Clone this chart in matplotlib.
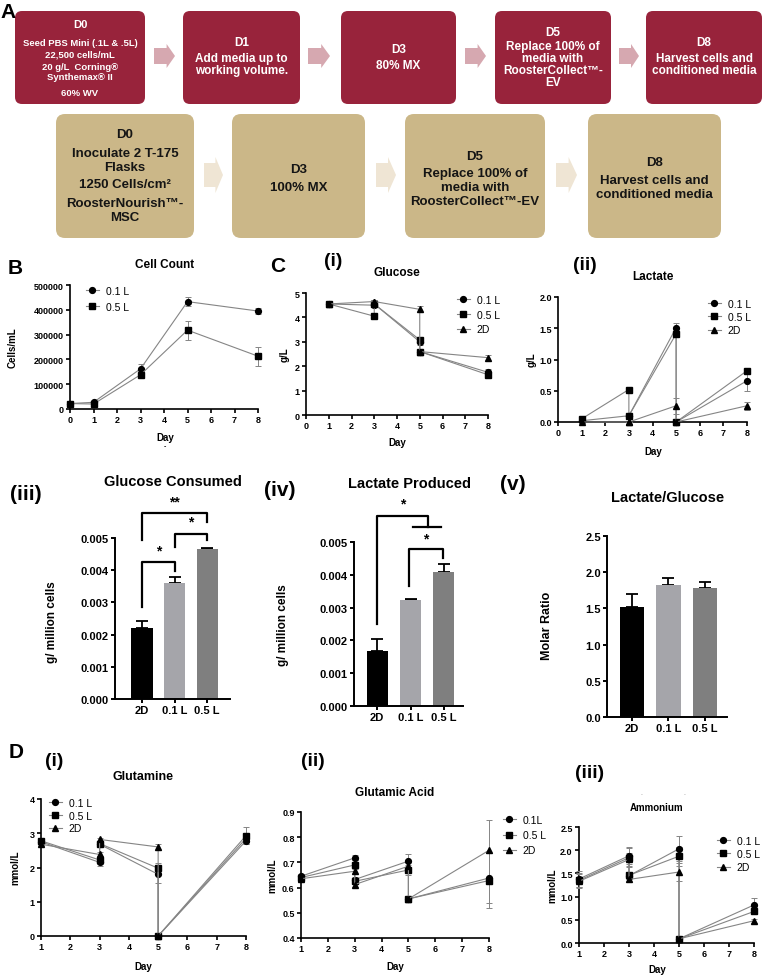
import numpy as np
import matplotlib
matplotlib.use('Agg')
import matplotlib.pyplot as plt
from matplotlib.patches import FancyBboxPatch, Polygon
from matplotlib.lines import Line2D

plt.rcParams['font.family'] = ['Liberation Sans', 'DejaVu Sans']
plt.rcParams['font.weight'] = 'bold'

# ---- データ ----
# B: cell count
cell_days = [0, 1, 3, 5, 8]
cells_01 = [22000, 27000, 162000, 433000, 395000]
cells_01_err = [3000, 5000, 20000, 18000, 13000]
cells_05 = [22000, 20000, 138000, 318000, 213000]
cells_05_err = [3000, 4000, 8000, 38000, 38000]

# C, D: metabolites (pre / post media exchange at day 3 and day 5)
met_days = [1, 3, 3, 5, 5, 8]
series_labels = ['0.1 L', '0.5 L', '2D']

glc_01 = [4.55, 4.50, 4.55, 3.00, 2.60, 1.75]
glc_05 = [4.55, 4.05, 4.55, 3.08, 2.60, 1.65]
glc_2d = [4.55, 4.65, 4.65, 4.33, 2.60, 2.35]
glc_err = [0.03, 0.05, 0.05, 0.12, 0.03, 0.12]

lac_01 = [0.02, 0.10, 0.10, 1.51, 0.00, 0.66]
lac_05 = [0.05, 0.52, 0.10, 1.41, 0.00, 0.82]
lac_2d = [0.00, 0.00, 0.00, 0.26, 0.00, 0.26]
lac_01_err = [0.01, 0.02, 0.02, 0.07, 0.00, 0.16]
lac_05_err = [0.01, 0.02, 0.02, 0.05, 0.00, 0.03]
lac_2d_err = [0.00, 0.00, 0.00, 0.13, 0.00, 0.06]

gln_01 = [2.75, 2.15, 2.68, 1.80, 0.00, 2.78]
gln_05 = [2.78, 2.22, 2.70, 1.98, 0.00, 2.93]
gln_2d = [2.68, 2.38, 2.82, 2.60, 0.00, 2.85]
gln_01_err = [0.08, 0.10, 0.08, 0.25, 0.00, 0.10]
gln_05_err = [0.08, 0.12, 0.08, 0.15, 0.00, 0.24]
gln_2d_err = [0.05, 0.08, 0.05, 0.10, 0.00, 0.12]

glu_01 = [0.645, 0.718, 0.632, 0.705, 0.555, 0.638]
glu_05 = [0.640, 0.690, 0.625, 0.670, 0.555, 0.628]
glu_2d = [0.635, 0.665, 0.612, 0.685, 0.555, 0.748]
glu_01_err = [0.01, 0.01, 0.01, 0.03, 0.00, 0.10]
glu_05_err = [0.01, 0.01, 0.01, 0.02, 0.00, 0.11]
glu_2d_err = [0.01, 0.01, 0.01, 0.02, 0.00, 0.12]

amm_01 = [1.38, 1.88, 1.45, 2.03, 0.09, 0.82]
amm_05 = [1.35, 1.84, 1.46, 1.87, 0.09, 0.68]
amm_2d = [1.33, 1.80, 1.37, 1.53, 0.09, 0.48]
amm_01_err = [0.18, 0.18, 0.08, 0.27, 0.00, 0.15]
amm_05_err = [0.15, 0.20, 0.08, 0.20, 0.00, 0.06]
amm_2d_err = [0.15, 0.15, 0.06, 0.20, 0.00, 0.04]

# bars
bar_groups = ['2D', '0.1 L', '0.5 L']
glc_consumed = [0.00222, 0.00359, 0.00466]
glc_consumed_err = [0.00020, 0.00020, 0.00002]
lac_produced = [0.00168, 0.00322, 0.00408]
lac_produced_err = [0.00037, 0.00003, 0.00026]
lac_glc_ratio = [1.52, 1.82, 1.78]
lac_glc_ratio_err = [0.18, 0.10, 0.09]
bar_colors = ['#000000', '#a5a5aa', '#7f7f7f']

# A: flow chart text
top_texts = [
    [(25, 'D0', 8), (43, 'Seed PBS Mini (.1L & .5L)', 6.8), (55, '22,500 cells/mL', 6.8),
     (68, '20 g/L  Corning®', 6.8), (78, 'Synthemax® II', 6.8), (93, '60% WV', 6.8)],
    [(43, 'D1', 8.5), (59, 'Add media up to', 8.5), (71, 'working volume.', 8.5)],
    [(50, 'D3', 8.5), (66, '80% MX', 8.5)],
    [(33, 'D5', 8.5), (47, 'Replace 100% of', 8.5), (59, 'media with', 8.5),
     (71, 'RoosterCollect™-', 8.5), (83, 'EV', 8.5)],
    [(43, 'D8', 8.5), (59, 'Harvest cells and', 8.5), (71, 'conditioned media', 8.5)],
]
bottom_texts = [
    [(135, 'D0'), (154, 'Inoculate 2 T-175'), (168, 'Flasks'), (185, '1250 Cells/cm²'),
     (204, 'RoosterNourish™-'), (218, 'MSC')],
    [(170, 'D3'), (188, '100% MX')],
    [(157, 'D5'), (174, 'Replace 100% of'), (188, 'media with'), (202, 'RoosterCollect™-EV')],
    [(163, 'D8'), (181, 'Harvest cells and'), (195, 'conditioned media')],
]

# ---- レイアウト (pixel) ----
W, H = 764, 978
fig = plt.figure(figsize=(W / 100, H / 100), dpi=100)
ax0 = fig.add_axes([0, 0, 1, 1])
ax0.set_xlim(0, W)
ax0.set_ylim(H, 0)
ax0.axis('off')


def px_axes(l, t, r, b):
    return fig.add_axes([l / W, 1 - b / H, (r - l) / W, (b - t) / H])


def txt(x, y, s, size=8, weight='bold', **kw):
    ax0.text(x, y, s, fontsize=size, fontweight=weight, ha=kw.pop('ha', 'center'),
             va=kw.pop('va', 'center'), **kw)


def block_arrow(x0, x1, yc, hb, hh, color):
    hl = (x1 - x0) * 0.4
    pts = [(x0, yc - hb), (x1 - hl, yc - hb), (x1 - hl, yc - hh), (x1, yc),
           (x1 - hl, yc + hh), (x1 - hl, yc + hb), (x0, yc + hb)]
    ax0.add_patch(Polygon(pts, closed=True, color=color, lw=0))


# ---- A: flow chart ----
top_x = [(15, 145), (183, 300), (341, 456), (495, 611), (646, 762)]
for (x0, x1), lines in zip(top_x, top_texts):
    ax0.add_patch(FancyBboxPatch((x0, 12), x1 - x0, 93, boxstyle='round,pad=0,rounding_size=7',
                                 fc='#98233b', ec='none'))
    for y, s, sz in lines:
        ax0.text((x0 + x1) / 2, y, s, fontsize=sz, fontweight='bold', color='white',
                 ha='center', va='center')
for x0, x1 in [(154, 175), (308, 330), (465, 486), (619, 639)]:
    block_arrow(x0, x1, 57, 8, 12, '#d6a8b0')

bot_x = [(56, 194), (232, 365), (405, 545), (588, 721)]
for (x0, x1), lines in zip(bot_x, bottom_texts):
    ax0.add_patch(FancyBboxPatch((x0, 115), x1 - x0, 124, boxstyle='round,pad=0,rounding_size=9',
                                 fc='#cbb788', ec='none'))
    for y, s in lines:
        ax0.text((x0 + x1) / 2, y, s, fontsize=9.5, fontweight='bold', color='#151515',
                 ha='center', va='center')
for x0, x1 in [(204, 223), (376, 396), (556, 577)]:
    block_arrow(x0, x1, 176, 12, 18, '#efe5d4')
txt(8, 13, 'A', 15)


# ---- line plot helper ----
markers = ['o', 's', '^']


def style_axes(ax, lw=1.2, size=6.5):
    ax.spines[['top', 'right']].set_visible(False)
    for s in ['left', 'bottom']:
        ax.spines[s].set_linewidth(lw)
    ax.tick_params(direction='out', length=3, width=lw, labelsize=size, pad=1.5)
    ax.set_facecolor('none')


def line_panel(ax, x, ys, errs, xlim, xticks, ylim, yticks, yfmt):
    for y, e, m in zip(ys, errs, markers):
        c = ax.errorbar(x, y, yerr=e, color='#858585', lw=0.8, ecolor='#858585', elinewidth=0.7,
                        capsize=2, capthick=0.7, marker=m, mfc='k', mec='k', ms=4.2, zorder=3)
        for art in c.get_children():
            art.set_clip_on(False)
    ax.set_xlim(*xlim)
    ax.set_xticks(xticks)
    ax.set_ylim(*ylim)
    ax.set_yticks(yticks)
    ax.set_yticklabels([yfmt.format(v) for v in yticks])
    style_axes(ax)


def add_legend(ax, labels, x, y, n=3, size=7.5, spacing=0.45):
    handles = [Line2D([], [], color='#858585', lw=0.8, marker=m, mfc='k', mec='k', ms=4.2)
               for m in markers[:n]]
    ax.legend(handles, labels, loc='upper left', bbox_to_anchor=(x / W, 1 - y / H),
              bbox_transform=fig.transFigure, frameon=False, borderpad=0, borderaxespad=0,
              handlelength=1.2, handletextpad=0.7, labelspacing=spacing,
              prop={'size': size, 'weight': 'normal'})


# ---- B: cell count ----
axB = px_axes(70, 286, 258, 410)
line_panel(axB, cell_days, [cells_01, cells_05], [cells_01_err, cells_05_err],
           (0, 8), range(0, 9), (0, 500000), range(0, 500001, 100000), '{:d}')
add_legend(axB, ['0.1 L', '0.5 L'], 86, 287, n=2, spacing=0.55)
txt(15, 269, 'B', 15)
txt(165, 265, 'Cell Count', 8.5)
txt(13, 348, 'Cells/mL', 7, rotation=90)
txt(165, 438, 'Day', 7)
txt(165, 447, '-', 5)

# ---- C(i): glucose ----
axC1 = px_axes(306, 294, 488, 416)
line_panel(axC1, met_days, [glc_01, glc_05, glc_2d], [glc_err, glc_err, glc_err],
           (0, 8), range(0, 9), (0, 5), range(0, 6), '{:d}')
add_legend(axC1, series_labels, 457, 296)
txt(278, 266, 'C', 15)
txt(333, 262, '(i)', 14)
txt(397, 273, 'Glucose', 8.5)
txt(285, 355, 'g/L', 7, rotation=90)
txt(397, 443, 'Day', 7)

# ---- C(ii): lactate ----
axC2 = px_axes(558, 298, 747, 423)
line_panel(axC2, met_days, [lac_01, lac_05, lac_2d], [lac_01_err, lac_05_err, lac_2d_err],
           (0, 8), range(0, 9), (0, 2), [0, 0.5, 1.0, 1.5, 2.0], '{:.1f}')
add_legend(axC2, series_labels, 708, 300, spacing=0.3)
txt(585, 266, '(ii)', 14)
txt(653, 277, 'Lactate', 8.5)
txt(532, 360, 'g/L', 7, rotation=90)
txt(653, 452, 'Day', 7)


# ---- bar panels ----
def bar_panel(ax, vals, errs, xlim, width, ylim, yticks, yfmt):
    xs = np.arange(len(vals))
    ax.bar(xs, vals, width=width, color=bar_colors, zorder=2)
    ax.errorbar(xs, vals, yerr=[np.zeros(len(vals)), errs], fmt='none', ecolor='k',
                elinewidth=1.3, capsize=4, capthick=1.3, zorder=1)
    ax.set_xlim(*xlim)
    ax.set_xticks(xs)
    ax.set_xticklabels(bar_groups, fontsize=8.5)
    ax.set_ylim(*ylim)
    ax.set_yticks(yticks)
    ax.set_yticklabels([yfmt.format(v) for v in yticks])
    style_axes(ax, lw=1.4, size=8)


def bracket(ax, x0, x1, ytop, yl, yr, star, ystar, lw=1.6):
    ax.plot([x0, x0, x1, x1], [yl, ytop, ytop, yr], color='k', lw=lw, clip_on=False)
    ax.text((x0 + x1) / 2, ystar, star, ha='center', va='center', fontsize=10,
            fontweight='bold', clip_on=False)


ax3 = px_axes(115, 539, 230, 700)
bar_panel(ax3, glc_consumed, glc_consumed_err, (-0.83, 2.7), 0.65, (0, 0.005),
          np.arange(0, 0.0051, 0.001), '{:.3f}')
bracket(ax3, 0, 2, 0.00579, 0.00495, 0.00551, '**', 0.00613)
bracket(ax3, 1, 2, 0.00511, 0.00471, 0.00495, '*', 0.00550)
bracket(ax3, 0, 1, 0.00424, 0.00285, 0.00396, '*', 0.00460)
txt(26, 494, '(iii)', 15)
txt(173, 482, 'Glucose Consumed', 10.5)
txt(52, 622, 'g/ million cells', 8.5, rotation=90)

ax4 = px_axes(354, 543, 463, 707)
bar_panel(ax4, lac_produced, lac_produced_err, (-0.69, 2.57), 0.63, (0, 0.005),
          np.arange(0, 0.0051, 0.001), '{:.3f}')
bracket(ax4, 0, 1.52, 0.00578, 0.00249, 0.00547, '*', 0.00616)
ax4.plot([1.07, 1.91], [0.00547, 0.00547], color='k', lw=1.6, clip_on=False)
bracket(ax4, 0.95, 1.98, 0.00480, 0.00365, 0.00450, '*', 0.00512)
txt(280, 490, '(iv)', 15)
txt(409, 484, 'Lactate Produced', 10.5)
txt(283, 625, 'g/ million cells', 8.5, rotation=90)

ax5 = px_axes(607, 537, 727, 718)
bar_panel(ax5, lac_glc_ratio, lac_glc_ratio_err, (-0.68, 2.6), 0.66, (0, 2.5),
          [0, 0.5, 1.0, 1.5, 2.0, 2.5], '{:.1f}')
txt(513, 484, '(v)', 15)
txt(668, 498, 'Lactate/Glucose', 10.5)
txt(547, 626, 'Molar Ratio', 9, rotation=90)

# ---- D(i): glutamine ----
axD1 = px_axes(41, 800, 246, 937)
line_panel(axD1, met_days, [gln_01, gln_05, gln_2d], [gln_01_err, gln_05_err, gln_2d_err],
           (1, 8), range(1, 9), (0, 4), range(0, 5), '{:d}')
add_legend(axD1, series_labels, 49, 799, spacing=0.25)
txt(16, 753, 'D', 15)
txt(54, 762, '(i)', 14)
txt(143, 777, 'Glutamine', 9)
txt(15, 868, 'mmol/L', 7, rotation=90)
txt(143, 967, 'Day', 7)

# ---- D(ii): glutamic acid ----
axD2 = px_axes(301, 813, 489, 939)
line_panel(axD2, met_days, [glu_01, glu_05, glu_2d], [glu_01_err, glu_05_err, glu_2d_err],
           (1, 8), range(1, 9), (0.4, 0.9), [0.4, 0.5, 0.6, 0.7, 0.8, 0.9], '{:.1f}')
add_legend(axD2, ['0.1L', '0.5 L', '2D'], 503, 816, spacing=0.5)
txt(313, 762, '(ii)', 14)
txt(395, 793, 'Glutamic Acid', 8.5)
txt(272, 876, 'mmol/L', 7, rotation=90)
txt(395, 967, 'Day', 7)

# ---- D(iii): ammonium ----
axD3 = px_axes(579, 828, 754, 944)
line_panel(axD3, met_days, [amm_01, amm_05, amm_2d], [amm_01_err, amm_05_err, amm_2d_err],
           (1, 8), range(1, 9), (0, 2.5), [0, 0.5, 1.0, 1.5, 2.0, 2.5], '{:.1f}')
add_legend(axD3, series_labels, 717, 837, spacing=0.3)
txt(590, 773, '(iii)', 14)
txt(657, 808, 'Ammonium', 7)
txt(552, 886, 'mmol/L', 7, rotation=90)
txt(657, 970, 'Day', 7)
txt(642, 795, '-', 4, color='#bbbbbb')
txt(685, 795, '-', 4, color='#bbbbbb')

fig.savefig('out.png', dpi=100)
